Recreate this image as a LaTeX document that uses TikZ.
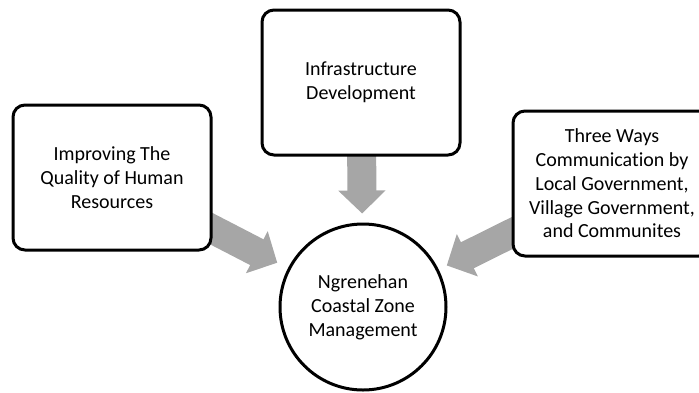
\documentclass[tikz,border=0pt]{standalone}
\usepackage{fontspec}
\setmainfont[Ligatures=NoCommon]{Carlito}
\usetikzlibrary{arrows.meta,backgrounds}
\definecolor{arrowgray}{RGB}{166,166,166}
\begin{document}
\begin{tikzpicture}[x=1pt,y=-1pt,
  box/.style={draw=black, line width=3pt, rounded corners=12pt, fill=white,
    minimum width=198pt, minimum height=145pt, align=center, inner sep=0pt,
    font=\fontsize{20}{23.8}\selectfont},
  zonecircle/.style={draw=black, circle, line width=3pt, fill=white,
    minimum size=166pt, align=center, inner sep=0pt,
    font=\fontsize{20}{23.8}\selectfont},
  garrow/.style={draw=arrowgray, line width=29pt, -{Triangle[width=46pt,length=23pt]}}]
\useasboundingbox (0,0) rectangle (699,392);
\node[box] (infra) at (361,82.5) {Infrastructure\\Development};
\node[box] (hr) at (112,177.5) {Improving The\\Quality of Human\\Resources};
\node[box] (comm) at (612,183.5) {Three Ways\\Communication by\\Local Government,\\Village Government,\\and Communites};
\node[zonecircle] (zone) at (363,307) {Ngrenehan\\Coastal Zone\\Management};
\begin{scope}[on background layer]
\draw[garrow, shorten <=-10pt, shorten >=9pt] (infra) -- (zone);
\draw[garrow, shorten <=-12pt, shorten >=12pt] (hr) -- (zone);
\draw[garrow, shorten <=-12pt, shorten >=9pt] (comm) -- (zone);
\end{scope}
\end{tikzpicture}
\end{document}
